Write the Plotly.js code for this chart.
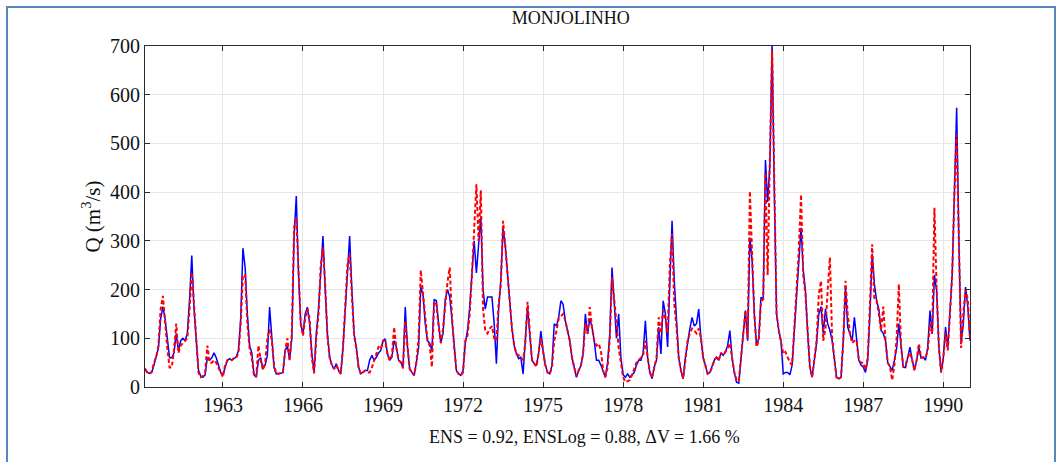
<!DOCTYPE html>
<html>
<head>
<meta charset="utf-8">
<script src="https://cdn.plot.ly/plotly-3.0.1.min.js"></script>
<style>
  html, body { margin: 0; padding: 0; background: #ffffff; }
  #wrap { position: relative; width: 1062px; height: 462px; overflow: hidden; }
  #frame { position: absolute; left: 6px; top: 6px; width: 1050px; height: 470px;
           border: 2px solid #5a86c0; box-sizing: border-box; pointer-events: none; }
  #chart { position: absolute; left: 0; top: 0; width: 1062px; height: 462px; }
</style>
</head>
<body>
<div id="wrap">
  <div id="chart"></div>
  <div id="frame"></div>
</div>
<script>
// Monthly discharge, MONJOLINHO, first month = Feb 1960, one row per year
const startYear = 1960;
const observed = [
  38, 30, 28, 30, 45, 60, 80, 140, 165, 140, 100, 60,
  60, 70, 110, 75, 95, 100, 95, 110, 180, 270, 160, 95,
  35, 22, 20, 25, 60, 55, 60, 70, 60, 45, 30, 25,
  40, 55, 58, 55, 58, 62, 75, 140, 285, 245, 150, 85,
  70, 25, 20, 55, 60, 37, 45, 65, 164, 90, 40, 27,
  27, 28, 30, 75, 85, 55, 100, 307, 392, 232, 130, 109,
  150, 164, 130, 68, 30, 110, 160, 232, 310, 200, 109, 61,
  45, 37, 48, 34, 27, 80, 150, 238, 310, 200, 109, 82,
  41, 27, 30, 34, 34, 55, 65, 55, 61, 70, 75, 95,
  99, 68, 55, 61, 95, 82, 55, 51, 40, 164, 82, 37,
  30, 24, 50, 80, 205, 190, 130, 95, 90, 75, 180, 177,
  130, 90, 110, 180, 200, 185, 140, 82, 34, 27, 24, 34,
  90, 116, 164, 232, 300, 234, 300, 350, 200, 160, 185, 185,
  185, 130, 48, 160, 220, 327, 290, 232, 177, 120, 85, 68,
  58, 61, 27, 90, 165, 109, 55, 48, 44, 70, 115, 75,
  45, 30, 27, 45, 130, 125, 143, 177, 170, 136, 116, 95,
  60, 40, 20, 34, 44, 68, 150, 109, 140, 123, 95, 55,
  55, 45, 34, 20, 50, 109, 245, 170, 100, 150, 60, 25,
  20, 27, 20, 25, 30, 45, 55, 55, 70, 136, 61, 30,
  17, 41, 55, 123, 68, 177, 150, 82, 200, 341, 218, 123,
  60, 34, 17, 61, 95, 120, 143, 125, 130, 160, 100, 60,
  45, 27, 30, 45, 55, 61, 55, 70, 65, 72, 85, 116,
  60, 30, 10, 8, 60, 120, 157, 95, 307, 260, 150, 85,
  100, 184, 180, 466, 380, 457, 705, 400, 150, 116, 95, 27,
  30, 30, 25, 45, 120, 200, 260, 327, 240, 198, 110, 40,
  20, 60, 90, 150, 165, 110, 160, 130, 116, 95, 55, 20,
  17, 20, 95, 205, 123, 110, 95, 143, 95, 55, 45, 41,
  30, 55, 150, 273, 211, 177, 160, 116, 110, 95, 50, 41,
  34, 55, 80, 130, 82, 41, 40, 61, 82, 55, 34, 55,
  80, 60, 61, 55, 82, 157, 109, 230, 198, 82, 30, 60,
  123, 80, 150, 232, 402, 573, 300, 90, 130, 205, 165, 95
];
const simulated = [
  36, 30, 27, 32, 50, 62, 85, 160, 187, 130, 80, 40,
  40, 75, 130, 70, 85, 90, 95, 100, 160, 235, 170, 90,
  30, 20, 22, 30, 85, 50, 50, 55, 50, 40, 30, 20,
  45, 55, 55, 55, 60, 60, 70, 130, 230, 230, 130, 80,
  60, 22, 22, 85, 55, 35, 50, 100, 118, 95, 45, 27,
  27, 28, 30, 75, 100, 55, 110, 327, 348, 240, 130, 105,
  140, 160, 140, 60, 28, 100, 150, 250, 286, 210, 105, 60,
  45, 37, 45, 34, 27, 80, 160, 250, 273, 190, 105, 80,
  41, 27, 30, 34, 30, 30, 40, 55, 65, 82, 78, 95,
  95, 68, 55, 65, 123, 80, 55, 51, 38, 136, 85, 37,
  30, 24, 50, 100, 240, 190, 130, 95, 85, 41, 175, 170,
  125, 90, 120, 175, 215, 245, 145, 82, 34, 27, 24, 30,
  95, 105, 150, 232, 330, 416, 300, 404, 160, 115, 110, 120,
  125, 100, 95, 170, 210, 341, 290, 232, 177, 120, 85, 68,
  65, 61, 55, 90, 175, 109, 55, 48, 42, 70, 100, 72,
  45, 30, 27, 40, 95, 115, 140, 145, 150, 136, 116, 95,
  60, 40, 22, 34, 44, 68, 130, 109, 164, 123, 95, 85,
  89, 75, 34, 20, 40, 100, 225, 180, 120, 80, 50, 20,
  10, 12, 14, 25, 40, 50, 55, 60, 65, 95, 60, 30,
  20, 41, 60, 143, 110, 157, 140, 110, 250, 314, 170, 123,
  60, 34, 17, 55, 95, 110, 120, 116, 110, 120, 100, 60,
  45, 27, 30, 40, 55, 61, 55, 70, 65, 72, 80, 90,
  55, 30, 15, 12, 60, 116, 157, 100, 402, 273, 150, 82,
  95, 175, 180, 440, 230, 470, 690, 420, 150, 116, 90, 68,
  72, 60, 50, 45, 120, 190, 280, 395, 230, 190, 110, 40,
  20, 60, 95, 190, 218, 95, 120, 200, 266, 100, 55, 17,
  17, 20, 95, 218, 150, 110, 90, 95, 95, 55, 50, 50,
  35, 60, 170, 293, 180, 177, 150, 116, 165, 95, 50, 41,
  14, 45, 100, 211, 82, 41, 45, 61, 70, 55, 34, 55,
  89, 60, 61, 60, 75, 130, 109, 368, 200, 82, 30, 60,
  110, 75, 150, 232, 400, 518, 300, 80, 150, 200, 180, 100
];
const xTicks = [1963, 1966, 1969, 1972, 1975, 1978, 1981, 1984, 1987, 1990];
const yTicks = [0, 100, 200, 300, 400, 500, 600, 700];
const chartTitle = 'MONJOLINHO';
const statsText = 'ENS = 0.92, ENSLog = 0.88, \u0394V = 1.66 %';
const yTitle = 'Q (m<sup>3</sup>/s)';

const time = observed.map((_, i) => startYear + (i + 1) / 12);

const font = 'Liberation Serif, Times New Roman, serif';

const traces = [
  { x: time, y: observed, type: 'scatter', mode: 'lines', name: 'Observed',
    line: { color: '#0000ff', width: 1.5 } },
  { x: time, y: simulated, type: 'scatter', mode: 'lines', name: 'Simulated',
    line: { color: '#ff0000', width: 2, dash: '4px,2.5px' } }
];

const axisCommon = {
  showline: true, linecolor: '#2b2b2b', linewidth: 1, mirror: 'ticks',
  ticks: 'inside', ticklen: 5, tickcolor: '#2b2b2b', tickwidth: 1,
  showgrid: true, gridcolor: '#e6e6e6', gridwidth: 1, zeroline: false,
  tickfont: { family: font, size: 20, color: '#111' }
};

const layout = {
  width: 1062, height: 462,
  margin: { l: 145, r: 92, t: 46, b: 75 },
  paper_bgcolor: '#ffffff', plot_bgcolor: '#ffffff',
  showlegend: false,
  title: { text: chartTitle, font: { family: font, size: 18, color: '#111' },
           x: 0.516, xref: 'paper', xanchor: 'center', y: 0.962, yanchor: 'middle' },
  xaxis: Object.assign({}, axisCommon, {
    range: [1960.08, 1991.0], tickvals: xTicks, ticktext: xTicks.map(String)
  }),
  yaxis: Object.assign({}, axisCommon, {
    range: [0, 700], tickvals: yTicks, ticktext: yTicks.map(String),
    title: { text: yTitle, font: { family: font, size: 21, color: '#111' }, standoff: 3 }
  }),
  annotations: [{
    text: statsText, xref: 'paper', yref: 'paper', x: 0.533, y: -0.148,
    xanchor: 'center', yanchor: 'middle', showarrow: false,
    font: { family: font, size: 18, color: '#111' }
  }]
};

Plotly.newPlot('chart', traces, layout, { displayModeBar: false, staticPlot: true });
</script>
</body>
</html>
